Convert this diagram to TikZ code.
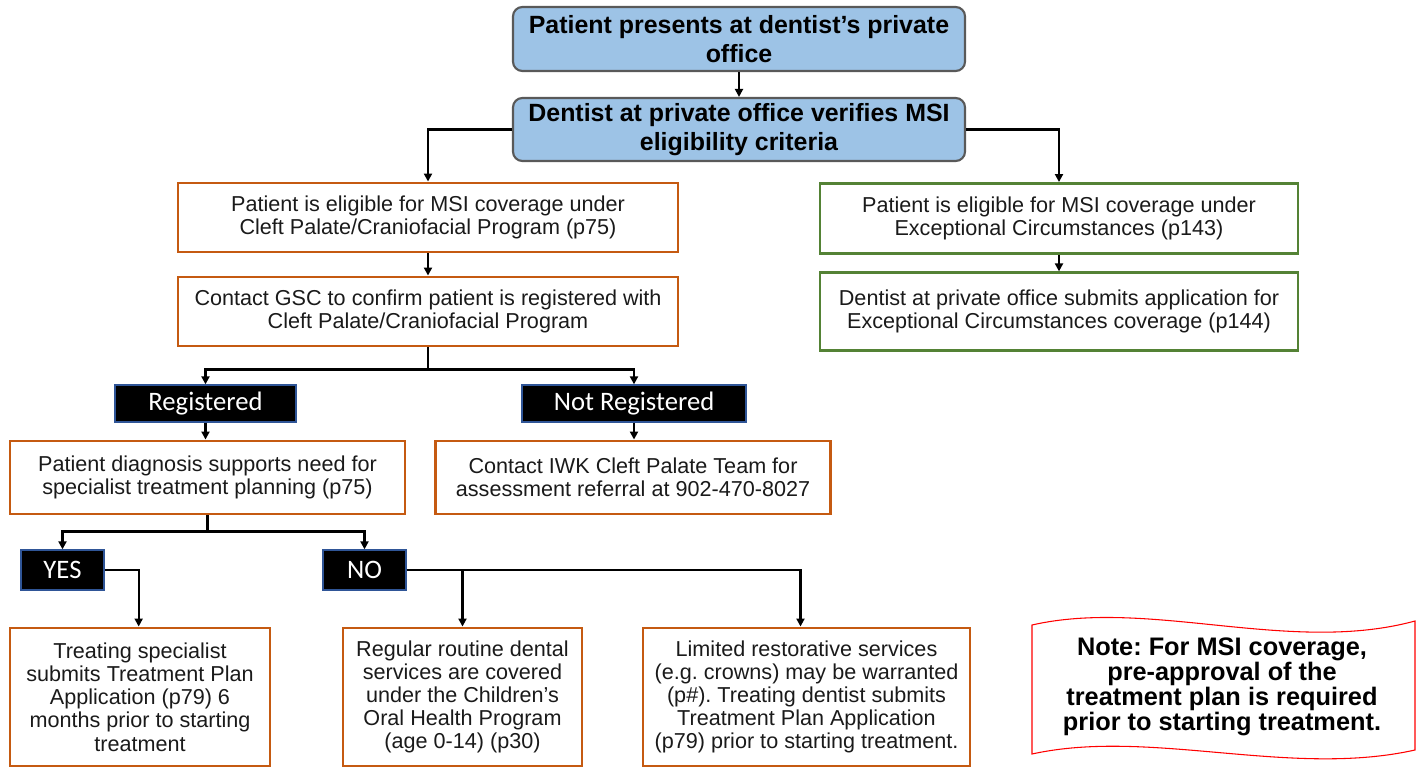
\documentclass[tikz,border=0pt]{standalone}
\usepackage{fontspec}
\setmainfont{Liberation Sans}
\newfontfamily\calibri{Carlito}
\usetikzlibrary{arrows.meta}
\definecolor{topfill}{HTML}{9DC3E6}
\definecolor{topdraw}{HTML}{595959}
\definecolor{orng}{HTML}{C55A11}
\definecolor{grn}{HTML}{548235}
\definecolor{lblblue}{HTML}{2F5597}
\definecolor{notered}{HTML}{FF0000}
\definecolor{txt}{HTML}{1A1A1A}
\frenchspacing
\begin{document}
\frenchspacing
\begin{tikzpicture}[x=0.75pt,y=-0.75pt,
  topbox/.style={draw=topdraw,fill=topfill,line width=1.6pt,rounded corners=7pt,
    minimum width=339pt,inner sep=0pt,align=center,
    font=\fontsize{18.7}{21.75}\selectfont\bfseries},
  obox/.style={draw=orng,line width=2.2pt,inner sep=0pt,align=center,text=txt,
    font=\fontsize{16.2}{17.4}\selectfont},
  gbox/.style={draw=grn,line width=2.2pt,inner sep=0pt,align=center,text=txt,
    font=\fontsize{16.2}{17.4}\selectfont},
  lbl/.style={draw=lblblue,fill=black,text=white,line width=1pt,inner sep=0pt,
    font=\calibri\fontsize{20}{22}\selectfont},
  conn/.style={line width=1.6pt,black},
  arr/.style={conn,-{Triangle[length=6pt,width=6pt]}}
]
\useasboundingbox (0,0) rectangle (1421,770);

\node[topbox,minimum height=48pt] (top1) at (739,39) {Patient presents at dentist’s private\\office};
\node[topbox,minimum height=47.25pt] (top2) at (739,129.5) {Dentist at private office verifies MSI\\eligibility criteria};

\node[obox,minimum width=375pt,minimum height=51.75pt] (A) at (428,217.5) {Patient is eligible for MSI coverage under\\Cleft Palate/Craniofacial Program (p75)};
\node[obox,minimum width=375pt,minimum height=51.75pt] (B) at (428,311.5) {Contact GSC to confirm patient is registered with\\Cleft Palate/Craniofacial Program};

\node[gbox,minimum width=358.5pt,minimum height=52.5pt] (C) at (1059,218.5) {Patient is eligible for MSI coverage under\\Exceptional Circumstances (p143)};
\node[gbox,minimum width=358.5pt,minimum height=58pt] (D) at (1059,311.5) {Dentist at private office submits application for\\Exceptional Circumstances coverage (p144)};

\node[lbl,minimum width=135.75pt,minimum height=27.75pt] (reg) at (205.5,403.5) {Registered};
\node[lbl,minimum width=168pt,minimum height=27.75pt] (nreg) at (634,403.5) {Not Registered};

\node[obox,minimum width=296.25pt,minimum height=54.75pt] (E) at (207.5,477.5) {Patient diagnosis supports need for\\specialist treatment planning (p75)};
\node[obox,minimum width=296.25pt,minimum height=54.75pt] (F) at (633,477.5) {Contact IWK Cleft Palate Team for\\assessment referral at 902-470-8027};

\node[lbl,minimum width=62.25pt,minimum height=30pt] (yes) at (62.5,570) {YES};
\node[lbl,minimum width=62.25pt,minimum height=30pt] (no) at (364.5,570) {NO};

\node[obox,minimum width=195pt,minimum height=103.5pt] (G) at (140,697) {Treating specialist\\submits Treatment Plan\\Application (p79) 6\\months prior to starting\\treatment};
\node[obox,minimum width=179.25pt,minimum height=103.5pt] (H) at (462.5,697) {Regular routine dental\\services are covered\\under the Children’s\\Oral Health Program\\(age 0-14) (p30)};
\node[obox,minimum width=245.25pt,minimum height=103.5pt] (I) at (806.5,697) {Limited restorative services\\(e.g. crowns) may be warranted\\(p\#). Treating dentist submits\\Treatment Plan Application\\(p79) prior to starting treatment.};

% note
\draw[notered,line width=0.8pt] (1032,625) .. controls (1150,598) and (1290,655) .. (1415,621)
  -- (1415,750) .. controls (1290,778) and (1150,728) .. (1032,754) -- cycle;
\node[align=center,inner sep=0pt,font=\fontsize{19}{18.9}\selectfont\bfseries] (note) at (1222,687)
  {Note: For MSI coverage,\\pre-approval of the\\treatment plan is required\\prior to starting treatment.};

% connectors
\draw[arr] (top1.south) -- (top2.north);
\draw[arr] (top2.west) -| (A.north);
\draw[arr] (top2.east) -| (C.north);
\draw[arr] (A.south) -- (B.north);
\draw[arr] (C.south) -- (D.north);
\draw[conn] (B.south) -- ++(0,22) coordinate (j1);
\draw[arr] (j1) -| (reg.north);
\draw[arr] (j1) -| (nreg.north);
\draw[arr] (reg.south) -- (reg.south |- E.north);
\draw[arr] (nreg.south) -- (nreg.south |- F.north);
\draw[conn] (E.south) -- ++(0,16) coordinate (j2);
\draw[arr] (j2) -| (yes.north);
\draw[arr] (j2) -| (no.north);
\draw[arr] (yes.east) -| ([xshift=-1pt]G.north);
\draw[arr] (no.east) -| (H.north);
\draw[arr] (no.east) -| ([xshift=-4.5pt]I.north);
\end{tikzpicture}
\end{document}
